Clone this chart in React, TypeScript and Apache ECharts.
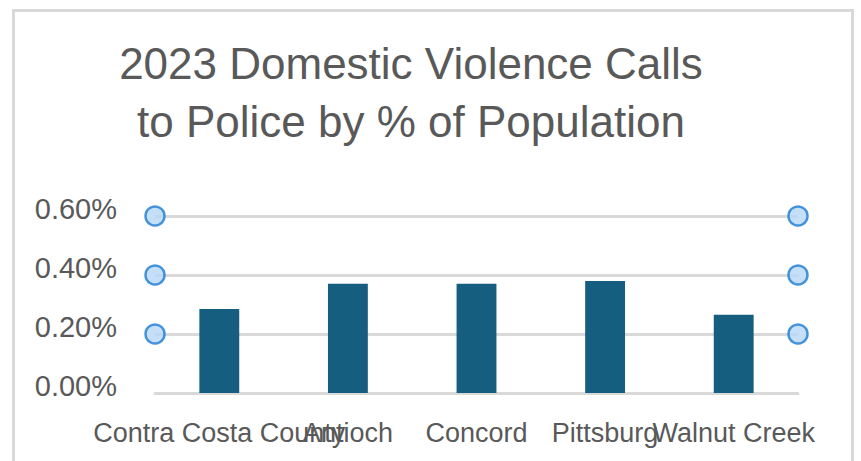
import React, { useEffect, useRef } from "react";
import * as echarts from "echarts";

const categories = ["Contra Costa County", "Antioch", "Concord", "Pittsburg", "Walnut Creek"];
const callsPct = [0.00285, 0.0037, 0.0037, 0.0038, 0.00265];
const handleLevels = [0.002, 0.004, 0.006];
const handleEnds = [0, 1];

export default function App() {
  const ref = useRef<HTMLDivElement>(null);
  useEffect(() => {
    if (!ref.current) return;
    const chart = echarts.init(ref.current, undefined, { renderer: "svg" });
    const handles: number[][] = [];
    handleEnds.forEach((x) => handleLevels.forEach((y) => handles.push([x, y])));
    chart.setOption({
      animation: false,
      backgroundColor: "#ffffff",
      title: {
        text: "2023 Domestic Violence Calls\nto Police by % of Population",
        left: 406,
        top: 29,
        textAlign: "center",
        textStyle: {
          fontFamily: "'Liberation Sans', Arial, sans-serif",
          fontSize: 44,
          fontWeight: "normal",
          color: "#595959",
          lineHeight: 58,
        },
      },
      graphic: [
        {
          type: "rect",
          shape: { x: 13.5, y: 10.5, width: 839, height: 470 },
          style: { fill: "none", stroke: "#d9d9d9", lineWidth: 3 },
          silent: true,
        },
      ],
      grid: { left: 155, right: 63, top: 216, bottom: 68 },
      xAxis: [
        {
          type: "category",
          data: categories,
          axisLine: { lineStyle: { color: "#d9d9d9", width: 3 } },
          axisTick: { show: false },
          axisLabel: {
            interval: 0,
            color: "#595959",
            fontSize: 27,
            fontFamily: "'Liberation Sans', Arial, sans-serif",
            margin: 26,
          },
        },
        {
          type: "value",
          min: 0,
          max: 1,
          show: false,
        },
      ],
      yAxis: {
        type: "value",
        min: 0,
        max: 0.006,
        interval: 0.002,
        axisLine: { show: false },
        axisTick: { show: false },
        splitLine: { lineStyle: { color: "#d9d9d9", width: 3 } },
        axisLabel: {
          color: "#595959",
          fontSize: 29,
          fontFamily: "'Liberation Sans', Arial, sans-serif",
          margin: 38,
          verticalAlign: "bottom",
          lineHeight: 14,
          formatter: (v: number) => (v * 100).toFixed(2) + "%",
        },
      },
      series: [
        {
          type: "bar",
          data: callsPct,
          barWidth: "31%",
          itemStyle: { color: "#165e80" },
          xAxisIndex: 0,
        },
        {
          type: "scatter",
          xAxisIndex: 1,
          data: handles,
          symbol: "circle",
          symbolSize: 19,
          itemStyle: { color: "#b8d7f6", borderColor: "#1a7bd3", borderWidth: 2.5 },
          silent: true,
          z: 5,
        },
      ],
    });
    return () => chart.dispose();
  }, []);
  return (
    <div
      ref={ref}
      style={{ position: "fixed", left: 0, top: 0, width: 861, height: 461 }}
    />
  );
}
